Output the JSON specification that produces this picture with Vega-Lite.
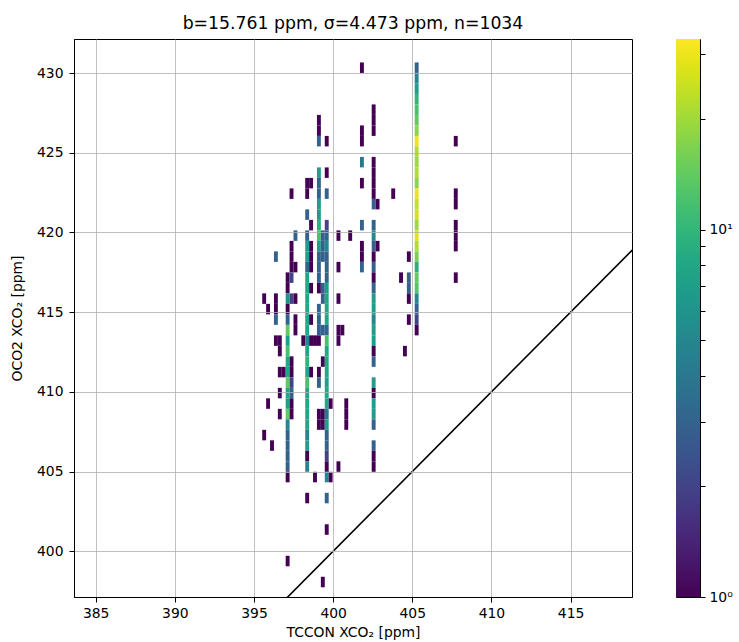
{
  "$schema": "https://vega.github.io/schema/vega-lite/v6.json",
  "padding": {"left": 9, "top": 14, "right": 5, "bottom": 0},
  "background": "white",
  "bounds": "flush",
  "spacing": 44,
  "config": {
    "font": "DejaVu Sans",
    "view": {"stroke": "black", "strokeWidth": 1},
    "axis": {
      "domainColor": "black", "tickColor": "black", "labelColor": "black", "titleColor": "black",
      "tickSize": 5, "labelFontSize": 13.9, "titleFontSize": 13.9, "titleFontWeight": "normal",
      "labelFont": "DejaVu Sans", "titleFont": "DejaVu Sans",
      "gridColor": "#b0b0b0", "gridWidth": 0.8, "gridOpacity": 1
    },
    "title": {"fontSize": 17.3, "fontWeight": "normal", "color": "black", "font": "DejaVu Sans"}
  },
  "hconcat": [
    {
      "width": 558,
      "height": 558,
      "title": {"text": "b=15.761 ppm, σ=4.473 ppm, n=1034", "offset": 7, "fontSize": 17.3, "font": "DejaVu Sans", "fontWeight": "normal", "anchor": "middle", "frame": "group"},
      "layer": [
        {
          "data": {"values": [
            {"i":0,"j":27,"c":1},{"i":0,"j":14,"c":1},
            {"i":1,"j":26,"c":1},{"i":1,"j":17,"c":1},
            {"i":2,"j":13,"c":1},
            {"i":3,"j":31,"c":3},{"i":3,"j":27,"c":1},{"i":3,"j":26,"c":1},{"i":3,"j":25,"c":3},{"i":3,"j":23,"c":1},
            {"i":4,"j":23,"c":1},{"i":4,"j":22,"c":1},{"i":4,"j":20,"c":1},{"i":4,"j":18,"c":1},{"i":4,"j":16,"c":1},
            {"i":5,"j":20,"c":1},
            {"i":6,"j":29,"c":1},{"i":6,"j":28,"c":1},{"i":6,"j":27,"c":6},{"i":6,"j":26,"c":1},{"i":6,"j":25,"c":3},{"i":6,"j":24,"c":14},{"i":6,"j":23,"c":7},{"i":6,"j":22,"c":12},{"i":6,"j":21,"c":8},{"i":6,"j":20,"c":8},{"i":6,"j":19,"c":14},{"i":6,"j":18,"c":8},{"i":6,"j":17,"c":7},{"i":6,"j":16,"c":14},{"i":6,"j":15,"c":5},{"i":6,"j":14,"c":3},{"i":6,"j":13,"c":3},{"i":6,"j":12,"c":3},{"i":6,"j":11,"c":3},{"i":6,"j":10,"c":1},{"i":6,"j":2,"c":1},
            {"i":7,"j":37,"c":1},{"i":7,"j":32,"c":1},{"i":7,"j":31,"c":1},{"i":7,"j":30,"c":1},{"i":7,"j":29,"c":2},{"i":7,"j":27,"c":2},{"i":7,"j":21,"c":1},{"i":7,"j":20,"c":1},{"i":7,"j":19,"c":2},{"i":7,"j":18,"c":3},{"i":7,"j":17,"c":1},{"i":7,"j":16,"c":1},
            {"i":8,"j":33,"c":3},{"i":8,"j":30,"c":1},{"i":8,"j":27,"c":1},{"i":8,"j":25,"c":1},{"i":8,"j":24,"c":1},
            {"i":10,"j":23,"c":1},
            {"i":11,"j":38,"c":1},{"i":11,"j":37,"c":1},{"i":11,"j":35,"c":3},{"i":11,"j":33,"c":3},{"i":11,"j":32,"c":7},{"i":11,"j":31,"c":7},{"i":11,"j":30,"c":3},{"i":11,"j":29,"c":8},{"i":11,"j":28,"c":8},{"i":11,"j":27,"c":8},{"i":11,"j":26,"c":8},{"i":11,"j":25,"c":8},{"i":11,"j":24,"c":8},{"i":11,"j":23,"c":5},{"i":11,"j":22,"c":8},{"i":11,"j":21,"c":10},{"i":11,"j":20,"c":8},{"i":11,"j":19,"c":12},{"i":11,"j":18,"c":8},{"i":11,"j":17,"c":8},{"i":11,"j":16,"c":8},{"i":11,"j":15,"c":8},{"i":11,"j":14,"c":5},{"i":11,"j":13,"c":7},{"i":11,"j":12,"c":1},{"i":11,"j":11,"c":5},{"i":11,"j":8,"c":1},
            {"i":12,"j":38,"c":1},{"i":12,"j":34,"c":1},{"i":12,"j":32,"c":1},{"i":12,"j":31,"c":1},{"i":12,"j":30,"c":1},{"i":12,"j":28,"c":1},{"i":12,"j":25,"c":1},{"i":12,"j":23,"c":1},{"i":12,"j":20,"c":1},
            {"i":13,"j":23,"c":1},{"i":13,"j":10,"c":1},
            {"i":14,"j":44,"c":1},{"i":14,"j":43,"c":1},{"i":14,"j":42,"c":3},{"i":14,"j":39,"c":7},{"i":14,"j":38,"c":3},{"i":14,"j":37,"c":3},{"i":14,"j":36,"c":7},{"i":14,"j":35,"c":7},{"i":14,"j":34,"c":9},{"i":14,"j":33,"c":12},{"i":14,"j":32,"c":7},{"i":14,"j":31,"c":3},{"i":14,"j":30,"c":3},{"i":14,"j":29,"c":3},{"i":14,"j":28,"c":1},{"i":14,"j":26,"c":3},{"i":14,"j":25,"c":3},{"i":14,"j":24,"c":3},{"i":14,"j":23,"c":1},{"i":14,"j":20,"c":1},{"i":14,"j":19,"c":3},{"i":14,"j":16,"c":1},{"i":14,"j":15,"c":1},
            {"i":15,"j":33,"c":3},{"i":15,"j":32,"c":3},{"i":15,"j":31,"c":3},{"i":15,"j":28,"c":3},{"i":15,"j":27,"c":3},{"i":15,"j":24,"c":3},{"i":15,"j":21,"c":1},{"i":15,"j":16,"c":1},{"i":15,"j":15,"c":1},{"i":15,"j":0,"c":1},
            {"i":16,"j":42,"c":1},{"i":16,"j":39,"c":1},{"i":16,"j":37,"c":3},{"i":16,"j":34,"c":2},{"i":16,"j":33,"c":3},{"i":16,"j":32,"c":5},{"i":16,"j":31,"c":3},{"i":16,"j":30,"c":3},{"i":16,"j":29,"c":3},{"i":16,"j":28,"c":7},{"i":16,"j":27,"c":8},{"i":16,"j":26,"c":8},{"i":16,"j":25,"c":8},{"i":16,"j":24,"c":3},{"i":16,"j":23,"c":12},{"i":16,"j":22,"c":8},{"i":16,"j":21,"c":8},{"i":16,"j":20,"c":8},{"i":16,"j":19,"c":7},{"i":16,"j":18,"c":8},{"i":16,"j":17,"c":8},{"i":16,"j":16,"c":4},{"i":16,"j":15,"c":7},{"i":16,"j":14,"c":3},{"i":16,"j":13,"c":3},{"i":16,"j":12,"c":2},{"i":16,"j":11,"c":1},{"i":16,"j":10,"c":5},{"i":16,"j":8,"c":3},{"i":16,"j":5,"c":1},
            {"i":17,"j":17,"c":1},{"i":17,"j":10,"c":1},
            {"i":19,"j":33,"c":1},{"i":19,"j":30,"c":1},{"i":19,"j":27,"c":1},{"i":19,"j":24,"c":1},{"i":19,"j":23,"c":1},{"i":19,"j":11,"c":1},
            {"i":20,"j":24,"c":1},
            {"i":21,"j":17,"c":1},{"i":21,"j":16,"c":1},{"i":21,"j":15,"c":1},
            {"i":22,"j":33,"c":1},
            {"i":25,"j":49,"c":1},{"i":25,"j":43,"c":1},{"i":25,"j":42,"c":1},{"i":25,"j":40,"c":4},{"i":25,"j":38,"c":1},{"i":25,"j":34,"c":3},{"i":25,"j":32,"c":1},{"i":25,"j":31,"c":1},{"i":25,"j":30,"c":3},
            {"i":28,"j":45,"c":1},{"i":28,"j":44,"c":1},{"i":28,"j":43,"c":1},{"i":28,"j":40,"c":1},{"i":28,"j":39,"c":1},{"i":28,"j":38,"c":1},{"i":28,"j":37,"c":1},{"i":28,"j":36,"c":3},{"i":28,"j":34,"c":3},{"i":28,"j":33,"c":5},{"i":28,"j":32,"c":3},{"i":28,"j":31,"c":1},{"i":28,"j":30,"c":3},{"i":28,"j":29,"c":1},{"i":28,"j":28,"c":3},{"i":28,"j":27,"c":7},{"i":28,"j":26,"c":7},{"i":28,"j":25,"c":5},{"i":28,"j":24,"c":7},{"i":28,"j":23,"c":7},{"i":28,"j":22,"c":1},{"i":28,"j":21,"c":3},{"i":28,"j":19,"c":7},{"i":28,"j":18,"c":1},{"i":28,"j":17,"c":7},{"i":28,"j":16,"c":7},{"i":28,"j":15,"c":3},{"i":28,"j":13,"c":3},{"i":28,"j":12,"c":1},{"i":28,"j":11,"c":1},
            {"i":29,"j":36,"c":1},{"i":29,"j":32,"c":1},
            {"i":33,"j":37,"c":1},
            {"i":35,"j":29,"c":1},
            {"i":36,"j":22,"c":1},
            {"i":37,"j":31,"c":1},{"i":37,"j":29,"c":3},{"i":37,"j":28,"c":3},{"i":37,"j":27,"c":1},{"i":37,"j":25,"c":1},
            {"i":39,"j":49,"c":3},{"i":39,"j":48,"c":5},{"i":39,"j":47,"c":7},{"i":39,"j":46,"c":10},{"i":39,"j":45,"c":12},{"i":39,"j":44,"c":14},{"i":39,"j":43,"c":18},{"i":39,"j":42,"c":30},{"i":39,"j":41,"c":22},{"i":39,"j":40,"c":20},{"i":39,"j":39,"c":22},{"i":39,"j":38,"c":18},{"i":39,"j":37,"c":30},{"i":39,"j":36,"c":24},{"i":39,"j":35,"c":26},{"i":39,"j":34,"c":20},{"i":39,"j":33,"c":28},{"i":39,"j":32,"c":22},{"i":39,"j":31,"c":16},{"i":39,"j":30,"c":9},{"i":39,"j":29,"c":14},{"i":39,"j":28,"c":13},{"i":39,"j":27,"c":5},{"i":39,"j":26,"c":3},{"i":39,"j":25,"c":2},{"i":39,"j":24,"c":1},
            {"i":49,"j":42,"c":1},{"i":49,"j":37,"c":1},{"i":49,"j":36,"c":1},{"i":49,"j":34,"c":1},{"i":49,"j":33,"c":1},{"i":49,"j":32,"c":1},{"i":49,"j":29,"c":1}
          ]},
          "transform": [
            {"lookup": "i", "from": {"data": {"values": [
              {"i":0,"x0":395.520,"x1":395.767},{"i":1,"x0":395.767,"x1":396.014},{"i":2,"x0":396.014,"x1":396.261},
              {"i":3,"x0":396.261,"x1":396.508},{"i":4,"x0":396.508,"x1":396.755},{"i":5,"x0":396.755,"x1":397.002},
              {"i":6,"x0":397.002,"x1":397.249},{"i":7,"x0":397.249,"x1":397.496},{"i":8,"x0":397.496,"x1":397.743},
              {"i":10,"x0":397.990,"x1":398.237},{"i":11,"x0":398.237,"x1":398.484},{"i":12,"x0":398.484,"x1":398.731},
              {"i":13,"x0":398.731,"x1":398.978},{"i":14,"x0":398.978,"x1":399.225},{"i":15,"x0":399.225,"x1":399.472},
              {"i":16,"x0":399.472,"x1":399.719},{"i":17,"x0":399.719,"x1":399.966},{"i":19,"x0":400.213,"x1":400.460},
              {"i":20,"x0":400.460,"x1":400.707},{"i":21,"x0":400.707,"x1":400.954},{"i":22,"x0":400.954,"x1":401.201},
              {"i":25,"x0":401.695,"x1":401.942},{"i":28,"x0":402.436,"x1":402.683},{"i":29,"x0":402.683,"x1":402.930},
              {"i":33,"x0":403.671,"x1":403.918},{"i":35,"x0":404.165,"x1":404.412},{"i":36,"x0":404.412,"x1":404.659},
              {"i":37,"x0":404.659,"x1":404.906},{"i":39,"x0":405.153,"x1":405.400},{"i":49,"x0":407.623,"x1":407.870}
            ]}, "key": "i", "fields": ["x0", "x1"]}},
            {"lookup": "j", "from": {"data": {"values": [
              {"j":0,"y0":397.740,"y1":398.399},{"j":1,"y0":398.399,"y1":399.057},{"j":2,"y0":399.057,"y1":399.716},
              {"j":3,"y0":399.716,"y1":400.374},{"j":4,"y0":400.374,"y1":401.033},{"j":5,"y0":401.033,"y1":401.692},
              {"j":6,"y0":401.692,"y1":402.350},{"j":7,"y0":402.350,"y1":403.009},{"j":8,"y0":403.009,"y1":403.667},
              {"j":9,"y0":403.667,"y1":404.326},{"j":10,"y0":404.326,"y1":404.985},{"j":11,"y0":404.985,"y1":405.643},
              {"j":12,"y0":405.643,"y1":406.302},{"j":13,"y0":406.302,"y1":406.960},{"j":14,"y0":406.960,"y1":407.619},
              {"j":15,"y0":407.619,"y1":408.278},{"j":16,"y0":408.278,"y1":408.936},{"j":17,"y0":408.936,"y1":409.595},
              {"j":18,"y0":409.595,"y1":410.253},{"j":19,"y0":410.253,"y1":410.912},{"j":20,"y0":410.912,"y1":411.571},
              {"j":21,"y0":411.571,"y1":412.229},{"j":22,"y0":412.229,"y1":412.888},{"j":23,"y0":412.888,"y1":413.546},
              {"j":24,"y0":413.546,"y1":414.205},{"j":25,"y0":414.205,"y1":414.864},{"j":26,"y0":414.864,"y1":415.522},
              {"j":27,"y0":415.522,"y1":416.181},{"j":28,"y0":416.181,"y1":416.839},{"j":29,"y0":416.839,"y1":417.498},
              {"j":30,"y0":417.498,"y1":418.157},{"j":31,"y0":418.157,"y1":418.815},{"j":32,"y0":418.815,"y1":419.474},
              {"j":33,"y0":419.474,"y1":420.132},{"j":34,"y0":420.132,"y1":420.791},{"j":35,"y0":420.791,"y1":421.450},
              {"j":36,"y0":421.450,"y1":422.108},{"j":37,"y0":422.108,"y1":422.767},{"j":38,"y0":422.767,"y1":423.425},
              {"j":39,"y0":423.425,"y1":424.084},{"j":40,"y0":424.084,"y1":424.743},{"j":41,"y0":424.743,"y1":425.401},
              {"j":42,"y0":425.401,"y1":426.060},{"j":43,"y0":426.060,"y1":426.718},{"j":44,"y0":426.718,"y1":427.377},
              {"j":45,"y0":427.377,"y1":428.036},{"j":46,"y0":428.036,"y1":428.694},{"j":47,"y0":428.694,"y1":429.353},
              {"j":48,"y0":429.353,"y1":430.011},{"j":49,"y0":430.011,"y1":430.670}
            ]}, "key": "j", "fields": ["y0", "y1"]}}
          ],
          "mark": {"type": "rect", "strokeWidth": 0},
          "encoding": {
            "x": {"field": "x0", "type": "quantitative",
              "scale": {"domain": [383.63, 418.88], "nice": false, "zero": false},
              "axis": {"values": [385, 390, 395, 400, 405, 410, 415], "title": "TCCON XCO₂ [ppm]", "labelPadding": 4, "titlePadding": 6, "zindex": 1, "labelFlush": false}},
            "x2": {"field": "x1"},
            "y": {"field": "y0", "type": "quantitative",
              "scale": {"domain": [397.13, 432.14], "nice": false, "zero": false},
              "axis": {"values": [400, 405, 410, 415, 420, 425, 430], "title": "OCO2 XCO₂ [ppm]", "labelPadding": 6, "titlePadding": 12, "zindex": 1}},
            "y2": {"field": "y1"},
            "color": {"field": "c", "type": "quantitative",
              "scale": {"type": "log", "domain": [1, 33], "scheme": "viridis"}, "legend": null}
          }
        },
        {
          "data": {"values": [{"x": 390, "y": 390}, {"x": 425, "y": 425}]},
          "mark": {"type": "line", "color": "black", "strokeWidth": 1.6, "clip": true},
          "encoding": {
            "x": {"field": "x", "type": "quantitative"},
            "y": {"field": "y", "type": "quantitative"}
          }
        }
      ]
    },
    {
      "width": 24,
      "height": 558,
      "data": {"values": [{"lo": 1, "hi": 33}]},
      "mark": {"type": "rect", "fill": {"gradient": "linear", "x1": 0, "y1": 1, "x2": 0, "y2": 0, "stops": [
        {"offset": 0.0, "color": "#440154"}, {"offset": 0.05, "color": "#471365"}, {"offset": 0.1, "color": "#482475"},
        {"offset": 0.15, "color": "#463480"}, {"offset": 0.2, "color": "#414487"}, {"offset": 0.25, "color": "#3b528b"},
        {"offset": 0.3, "color": "#355f8d"}, {"offset": 0.35, "color": "#2f6c8e"}, {"offset": 0.4, "color": "#2a788e"},
        {"offset": 0.45, "color": "#25848e"}, {"offset": 0.5, "color": "#21918c"}, {"offset": 0.55, "color": "#1e9c89"},
        {"offset": 0.6, "color": "#22a884"}, {"offset": 0.65, "color": "#2fb47c"}, {"offset": 0.7, "color": "#44bf70"},
        {"offset": 0.75, "color": "#5ec962"}, {"offset": 0.8, "color": "#7ad151"}, {"offset": 0.85, "color": "#9bd93c"},
        {"offset": 0.9, "color": "#bddf26"}, {"offset": 0.95, "color": "#dfe318"}, {"offset": 1.0, "color": "#fde725"}
      ]}},
      "encoding": {
        "y": {"field": "lo", "type": "quantitative",
          "scale": {"type": "log", "domain": [1, 33], "nice": false},
          "axis": {"orient": "right", "values": [1, 2, 3, 4, 5, 6, 7, 8, 9, 10, 20, 30], "grid": false, "domain": false, "title": null,
            "labelExpr": "datum.value == 1 ? '10⁰' : (datum.value == 10 ? '10¹' : '')", "labelFlush": false, "labelOverlap": false, "labelPadding": 4}},
        "y2": {"field": "hi"}
      }
    }
  ]
}
